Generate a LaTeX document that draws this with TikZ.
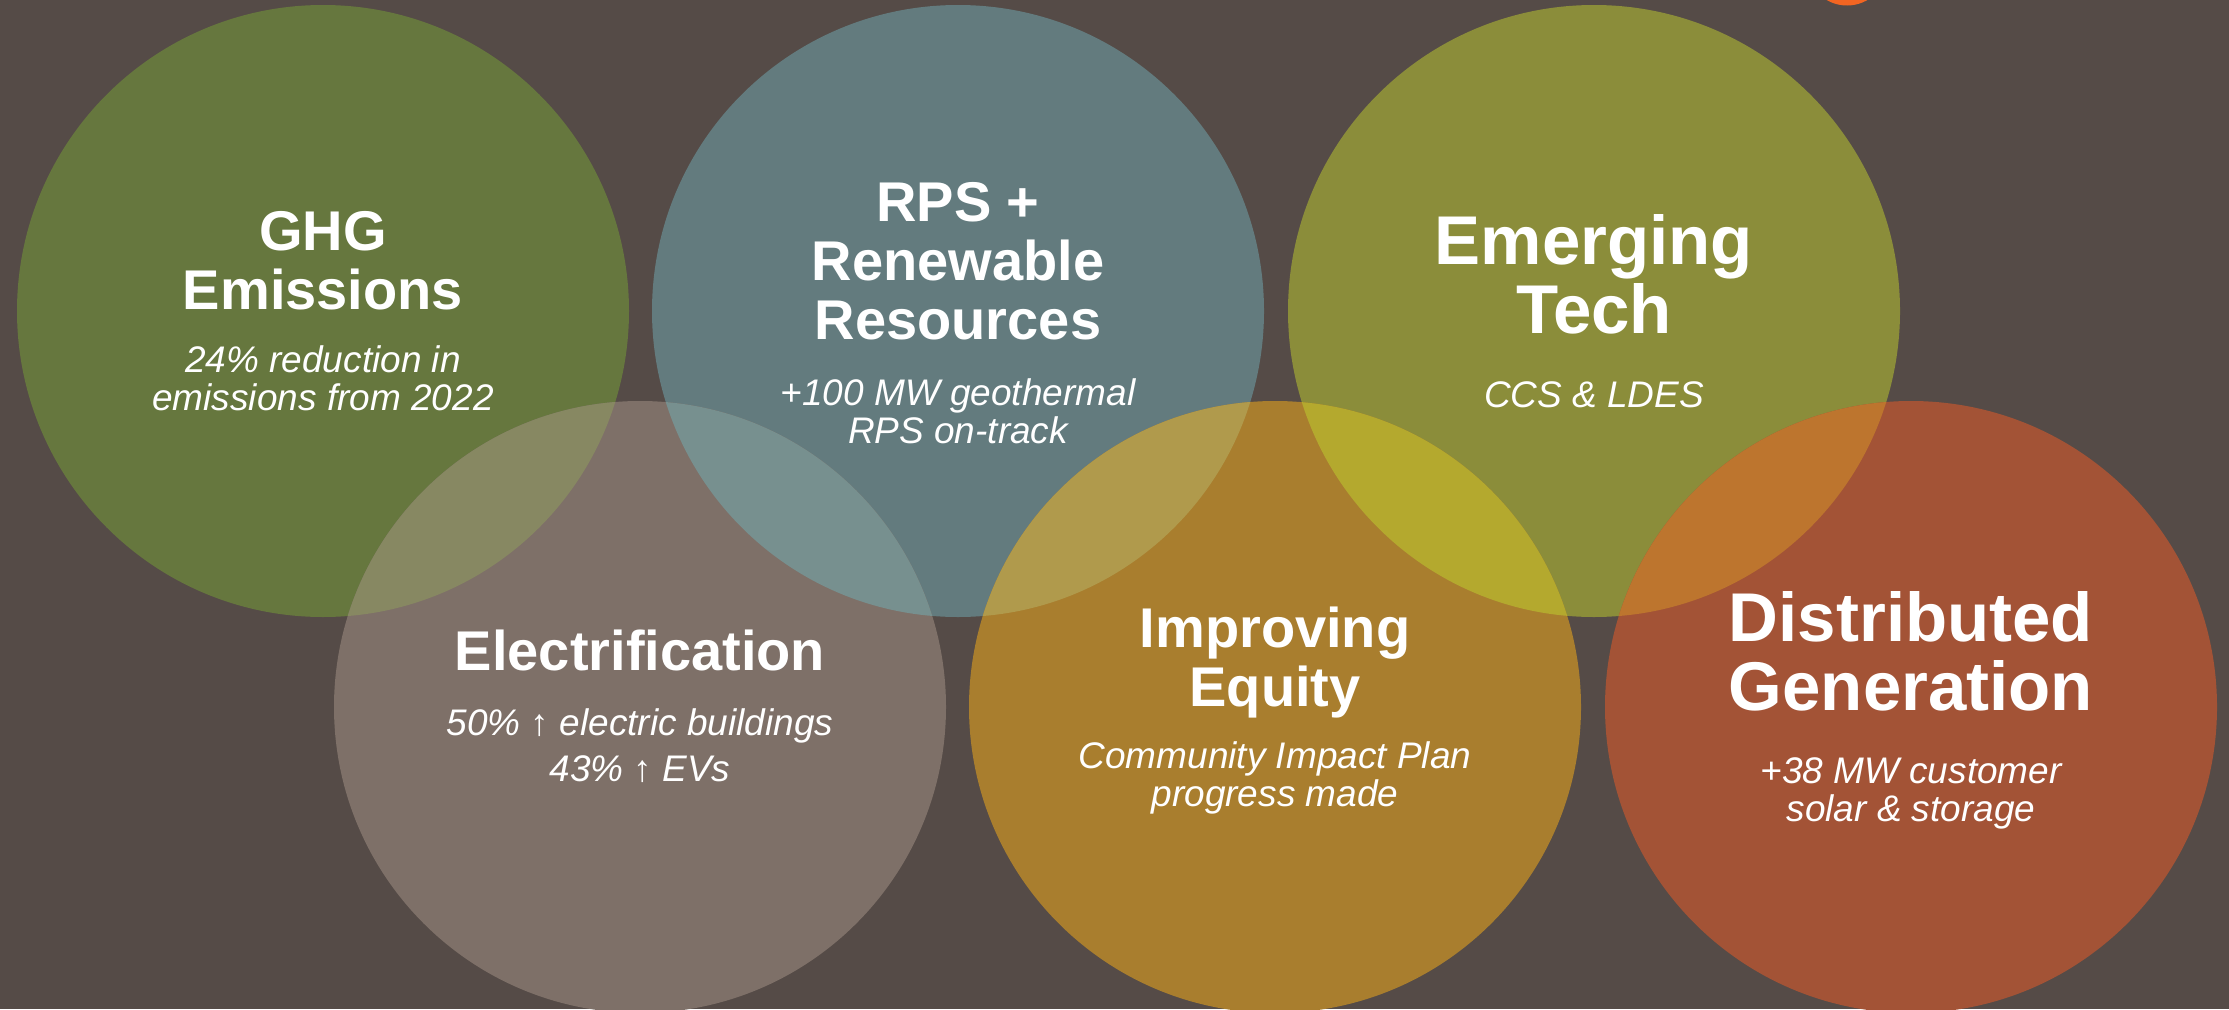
\documentclass[tikz,border=0pt]{standalone}
\usepackage{fontspec}
\setmainfont{Liberation Sans}

\definecolor{slate}{HTML}{554B47}
\definecolor{ghgfill}{HTML}{66773E}
\definecolor{rpsfill}{HTML}{637B7E}
\definecolor{techfill}{HTML}{8B8D3A}
\definecolor{elecfill}{HTML}{7E7068}
\definecolor{equityfill}{HTML}{A97E2E}
\definecolor{distfill}{HTML}{A35336}
\definecolor{ghgelec}{HTML}{878862}
\definecolor{rpselec}{HTML}{77908F}
\definecolor{rpsequity}{HTML}{B09A4C}
\definecolor{techequity}{HTML}{B4A92E}
\definecolor{techdist}{HTML}{BD752E}
\definecolor{accent}{HTML}{F26522}

\begin{document}
\begin{tikzpicture}
    [x=1pt, y=-1pt,
    bubble/.style={circle, minimum size=612pt, inner sep=0pt, draw=none},
    title/.style={text=white, font=\bfseries\fontsize{56}{59}\selectfont, align=center,
        anchor=south, inner sep=0pt, text depth=0pt},
    bigtitle/.style={title, font=\bfseries\fontsize{69}{69}\selectfont},
    detail/.style={text=white, font=\itshape\fontsize{37}{38}\selectfont, align=center,
        anchor=south, inner sep=0pt, text depth=0pt}]

    \useasboundingbox (0,0) rectangle (2229,1009);
    \fill[slate] (0,0) rectangle (2229,1009);

    \node[circle, fill=accent, minimum size=81pt, inner sep=0pt] (logo) at (1847,-35) {};

    % top row
    \node[bubble, fill=ghgfill] (ghg) at (323,311) {};
    \node[bubble, fill=rpsfill] (rps) at (958,311) {};
    \node[bubble, fill=techfill] (tech) at (1594,311) {};

    % bottom row
    \node[bubble, fill=elecfill] (elec) at (640,707) {};
    \node[bubble, fill=equityfill] (equity) at (1275,707) {};
    \node[bubble, fill=distfill] (dist) at (1911,707) {};

    % --- overlaps ---
    \begin{scope}
        \clip (ghg.center) circle (306pt);
        \fill[ghgelec] (elec.center) circle (306pt);
    \end{scope}
    \begin{scope}
        \clip (rps.center) circle (306pt);
        \fill[rpselec] (elec.center) circle (306pt);
        \fill[rpsequity] (equity.center) circle (306pt);
    \end{scope}
    \begin{scope}
        \clip (tech.center) circle (306pt);
        \fill[techequity] (equity.center) circle (306pt);
        \fill[techdist] (dist.center) circle (306pt);
    \end{scope}

    % --- labels ---
    \node[title] (ghgtitle) at (323,310) {GHG\\Emissions};
    \node[detail] (ghgnote) at (323,411) {24\% reduction in\\emissions from 2022};

    \node[title] (rpstitle) at (958,340) {RPS +\\Renewable\\Resources};
    \node[detail] (rpsnote) at (958,444) {+100 MW geothermal\\RPS on-track};

    \node[bigtitle] (techtitle) at (1594,334) {Emerging\\Tech};
    \node[detail] (technote) at (1594,408) {CCS \& LDES};

    \node[title] (electitle) at (640,671) {Electrification};
    \node[detail] (elecnote) at (640,782) {50\% ↑ electric buildings\\[8pt]43\% ↑ EVs};

    \node[title] (equitytitle) at (1275,707) {Improving\\Equity};
    \node[detail] (equitynote) at (1275,807) {Community Impact Plan\\progress made};

    \node[bigtitle] (disttitle) at (1911,711) {Distributed\\Generation};
    \node[detail] (distnote) at (1911,822) {+38 MW customer\\solar \& storage};
\end{tikzpicture}
\end{document}
